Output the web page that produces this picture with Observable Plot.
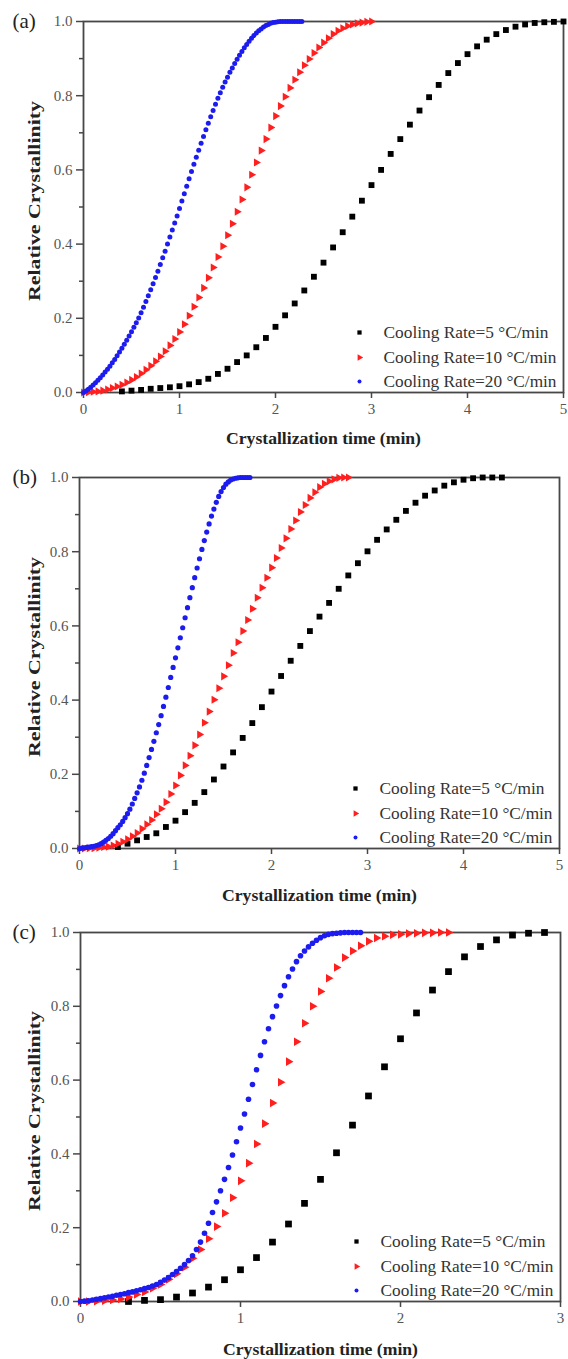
<!DOCTYPE html>
<html><head><meta charset="utf-8">
<script src="https://cdn.jsdelivr.net/npm/d3@7"></script>
<script src="https://cdn.jsdelivr.net/npm/@observablehq/plot@0.6"></script>
<style>
html,body{margin:0;padding:0;background:#fff;}
#chart{width:568px;}
#chart svg{display:block;}
#chart svg, #chart svg text{font-family:"Liberation Serif","Times New Roman",serif !important;}
</style></head><body><div id="chart"></div>
<script>
// ---------- labels & ticks ----------
const panelLabels = ["(a)", "(b)", "(c)"];
const legendLabels = ["Cooling Rate=5 °C/min", "Cooling Rate=10 °C/min", "Cooling Rate=20 °C/min"];
const xTitle = "Crystallization time (min)";
const yTitle = "Relative Crystallinity";
const xTicksAB = [0, 1, 2, 3, 4, 5];
const xTicksC = [0, 1, 2, 3];
const yTicks = [0, 0.2, 0.4, 0.6, 0.8, 1.0];
const yMinorTicks = [0.1, 0.3, 0.5, 0.7, 0.9];

// ---------- panel (a) ----------
const a_time5 = [0.4,0.5,0.6,0.7,0.8,0.9,1.0,1.1,1.2,1.3,1.4,1.5,1.6,1.7,1.8,1.9,2.0,2.1,2.2,2.3,2.4,2.5,2.6,2.7,2.8,2.9,3.0,3.1,3.2,3.3,3.4,3.5,3.6,3.7,3.8,3.9,4.0,4.1,4.2,4.3,4.4,4.5,4.6,4.7,4.8,4.9,5.0];
const a_cryst5 = [0.003,0.005,0.007,0.010,0.012,0.014,0.017,0.022,0.028,0.037,0.050,0.064,0.082,0.100,0.122,0.147,0.177,0.208,0.240,0.275,0.312,0.350,0.391,0.432,0.474,0.517,0.559,0.600,0.643,0.683,0.722,0.760,0.796,0.829,0.861,0.888,0.912,0.933,0.951,0.966,0.977,0.986,0.992,0.996,0.998,0.999,1.000];
const a_time10 = [0,0.05,0.1,0.15,0.2,0.25,0.3,0.35,0.4,0.45,0.5,0.55,0.6,0.65,0.7,0.75,0.8,0.85,0.9,0.95,1.0,1.05,1.1,1.15,1.2,1.25,1.3,1.35,1.4,1.45,1.5,1.55,1.6,1.65,1.7,1.75,1.8,1.85,1.9,1.95,2.0,2.05,2.1,2.15,2.2,2.25,2.3,2.35,2.4,2.45,2.5,2.55,2.6,2.65,2.7,2.75,2.8,2.85,2.9,2.95,3.0];
const a_cryst10 = [0.000,0.001,0.002,0.003,0.005,0.008,0.012,0.016,0.021,0.027,0.034,0.042,0.051,0.061,0.072,0.084,0.097,0.111,0.127,0.144,0.163,0.184,0.207,0.231,0.256,0.282,0.309,0.337,0.365,0.394,0.424,0.455,0.487,0.520,0.553,0.587,0.620,0.652,0.683,0.714,0.745,0.772,0.797,0.821,0.843,0.863,0.882,0.899,0.915,0.930,0.943,0.955,0.966,0.975,0.982,0.988,0.992,0.995,0.997,0.999,1.000];
const a_time20 = [0,0.025,0.05,0.075,0.1,0.125,0.15,0.175,0.2,0.225,0.25,0.275,0.3,0.325,0.35,0.375,0.4,0.425,0.45,0.475,0.5,0.525,0.55,0.575,0.6,0.625,0.65,0.675,0.7,0.725,0.75,0.775,0.8,0.825,0.85,0.875,0.9,0.925,0.95,0.975,1.0,1.025,1.05,1.075,1.1,1.125,1.15,1.175,1.2,1.225,1.25,1.275,1.3,1.325,1.35,1.375,1.4,1.425,1.45,1.475,1.5,1.525,1.55,1.575,1.6,1.625,1.65,1.675,1.7,1.725,1.75,1.775,1.8,1.825,1.85,1.875,1.9,1.925,1.95,1.975,2.0,2.025,2.05,2.075,2.1,2.125,2.15,2.175,2.2,2.225,2.25,2.275];
const a_cryst20 = [0.000,0.004,0.009,0.014,0.020,0.026,0.033,0.040,0.047,0.055,0.063,0.071,0.080,0.089,0.099,0.109,0.119,0.130,0.141,0.152,0.164,0.176,0.188,0.201,0.215,0.230,0.245,0.261,0.277,0.293,0.310,0.327,0.345,0.363,0.381,0.400,0.419,0.438,0.457,0.476,0.496,0.516,0.536,0.556,0.576,0.596,0.615,0.634,0.653,0.672,0.690,0.708,0.726,0.743,0.760,0.777,0.793,0.808,0.823,0.837,0.850,0.863,0.875,0.887,0.898,0.909,0.919,0.929,0.938,0.947,0.955,0.962,0.969,0.975,0.980,0.985,0.989,0.992,0.995,0.997,0.998,0.999,1.000,1.000,1.000,1.000,1.000,1.000,1.000,1.000,1.000,1.000];

// ---------- panel (b) ----------
const b_time5 = [0.4,0.5,0.6,0.7,0.8,0.9,1.0,1.1,1.2,1.3,1.4,1.5,1.6,1.7,1.8,1.9,2.0,2.1,2.2,2.3,2.4,2.5,2.6,2.7,2.8,2.9,3.0,3.1,3.2,3.3,3.4,3.5,3.6,3.7,3.8,3.9,4.0,4.1,4.2,4.3,4.4];
const b_cryst5 = [0.004,0.013,0.022,0.031,0.041,0.058,0.075,0.098,0.123,0.152,0.186,0.221,0.259,0.298,0.338,0.381,0.423,0.465,0.506,0.546,0.586,0.625,0.662,0.700,0.736,0.769,0.801,0.832,0.860,0.886,0.910,0.932,0.951,0.965,0.978,0.987,0.994,0.998,1.000,1.000,1.000];
const b_time10 = [0,0.05,0.1,0.15,0.2,0.25,0.3,0.35,0.4,0.45,0.5,0.55,0.6,0.65,0.7,0.75,0.8,0.85,0.9,0.95,1.0,1.05,1.1,1.15,1.2,1.25,1.3,1.35,1.4,1.45,1.5,1.55,1.6,1.65,1.7,1.75,1.8,1.85,1.9,1.95,2.0,2.05,2.1,2.15,2.2,2.25,2.3,2.35,2.4,2.45,2.5,2.55,2.6,2.65,2.7,2.75,2.8];
const b_cryst10 = [0.000,0.000,0.001,0.001,0.002,0.004,0.005,0.008,0.013,0.018,0.025,0.033,0.042,0.053,0.065,0.077,0.092,0.107,0.125,0.147,0.170,0.197,0.224,0.250,0.278,0.307,0.339,0.369,0.401,0.432,0.464,0.494,0.527,0.556,0.586,0.616,0.646,0.676,0.703,0.730,0.757,0.783,0.810,0.836,0.861,0.884,0.907,0.926,0.945,0.960,0.974,0.983,0.990,0.995,0.999,1.000,1.000];
const b_time20 = [0,0.025,0.05,0.075,0.1,0.125,0.15,0.175,0.2,0.225,0.25,0.275,0.3,0.325,0.35,0.375,0.4,0.425,0.45,0.475,0.5,0.525,0.55,0.575,0.6,0.625,0.65,0.675,0.7,0.725,0.75,0.775,0.8,0.825,0.85,0.875,0.9,0.925,0.95,0.975,1.0,1.025,1.05,1.075,1.1,1.125,1.15,1.175,1.2,1.225,1.25,1.275,1.3,1.325,1.35,1.375,1.4,1.425,1.45,1.475,1.5,1.525,1.55,1.575,1.6,1.625,1.65,1.675,1.7,1.725,1.75,1.775];
const b_cryst20 = [0.000,0.001,0.002,0.003,0.004,0.005,0.006,0.008,0.010,0.013,0.017,0.022,0.027,0.033,0.040,0.048,0.056,0.064,0.073,0.083,0.094,0.106,0.120,0.135,0.150,0.166,0.184,0.203,0.224,0.245,0.267,0.289,0.312,0.334,0.358,0.383,0.408,0.434,0.461,0.488,0.514,0.541,0.568,0.595,0.622,0.649,0.676,0.703,0.730,0.756,0.781,0.806,0.830,0.853,0.875,0.896,0.915,0.933,0.949,0.962,0.973,0.982,0.988,0.993,0.996,0.998,0.999,1.000,1.000,1.000,1.000,1.000];

// ---------- panel (c) ----------
const c_time5 = [0.3,0.4,0.5,0.6,0.7,0.8,0.9,1.0,1.1,1.2,1.3,1.4,1.5,1.6,1.7,1.8,1.9,2.0,2.1,2.2,2.3,2.4,2.5,2.6,2.7,2.8,2.9];
const c_cryst5 = [0.000,0.003,0.005,0.012,0.023,0.039,0.059,0.086,0.119,0.161,0.210,0.266,0.331,0.403,0.478,0.557,0.636,0.712,0.782,0.844,0.894,0.934,0.962,0.980,0.993,0.998,1.000];
const c_time10 = [0,0.05,0.1,0.15,0.2,0.25,0.3,0.35,0.4,0.45,0.5,0.55,0.6,0.65,0.7,0.75,0.8,0.85,0.9,0.95,1.0,1.05,1.1,1.15,1.2,1.25,1.3,1.35,1.4,1.45,1.5,1.55,1.6,1.65,1.7,1.75,1.8,1.85,1.9,1.95,2.0,2.05,2.1,2.15,2.2,2.25,2.3];
const c_cryst10 = [0.000,0.000,0.001,0.002,0.004,0.007,0.012,0.019,0.026,0.036,0.046,0.060,0.075,0.093,0.117,0.141,0.170,0.203,0.239,0.281,0.327,0.375,0.427,0.482,0.538,0.594,0.650,0.704,0.754,0.800,0.840,0.876,0.905,0.932,0.950,0.964,0.976,0.985,0.990,0.994,0.995,0.997,0.998,0.999,0.999,1.000,1.000];
const c_time20 = [0,0.025,0.05,0.075,0.1,0.125,0.15,0.175,0.2,0.225,0.25,0.275,0.3,0.325,0.35,0.375,0.4,0.425,0.45,0.475,0.5,0.525,0.55,0.575,0.6,0.625,0.65,0.675,0.7,0.725,0.75,0.775,0.8,0.825,0.85,0.875,0.9,0.925,0.95,0.975,1.0,1.025,1.05,1.075,1.1,1.125,1.15,1.175,1.2,1.225,1.25,1.275,1.3,1.325,1.35,1.375,1.4,1.425,1.45,1.475,1.5,1.525,1.55,1.575,1.6,1.625,1.65,1.675,1.7,1.725,1.75];
const c_cryst20 = [0.000,0.001,0.002,0.004,0.006,0.008,0.010,0.012,0.014,0.017,0.019,0.021,0.024,0.026,0.029,0.032,0.035,0.038,0.042,0.046,0.052,0.058,0.065,0.073,0.081,0.090,0.100,0.111,0.124,0.141,0.161,0.185,0.212,0.241,0.270,0.300,0.331,0.363,0.397,0.433,0.470,0.508,0.548,0.588,0.628,0.667,0.704,0.739,0.772,0.801,0.829,0.856,0.880,0.901,0.921,0.937,0.950,0.961,0.971,0.979,0.986,0.991,0.995,0.997,0.998,0.999,1.000,1.000,1.000,1.000,1.000];

// ---------- styling ----------
const FONT = "Liberation Serif";
const BLACK = "#000000", RED = "#ff1f1f", BLUE = "#1c1cf0";
const AXIS = "#474747";
const legendLengths = [165, 173, 173];

function rows(t, v) { return t.map((d, i) => ({t: d, v: v[i]})).filter(d => d.v != null); }

function panel(cfg) {
  const s5 = rows(cfg.t5, cfg.v5), s10 = rows(cfg.t10, cfg.v10), s20 = rows(cfg.t20, cfg.v20);
  const legendDy = [-60, -35, -11];
  const legendMarks = [];
  const symStyle = [
    {symbol: "square", fill: BLACK, r: 2.4},
    {symbol: "triangle", fill: RED, r: 2.4, rotate: 90},
    {symbol: "circle", fill: BLUE, r: 2.0}
  ];
  legendLabels.forEach((lab, i) => {
    legendMarks.push(Plot.dot([lab], {frameAnchor: "bottom-right", dx: -204, dy: legendDy[i], ...symStyle[i]}));
    legendMarks.push(Plot.text([lab], {text: d => d, frameAnchor: "bottom-right", dx: -180, dy: legendDy[i], textAnchor: "start", lineAnchor: "middle", fontSize: 16, fontFamily: FONT, fill: "#333"}));
  });
  const svg = Plot.plot({
    width: 568, height: cfg.height,
    marginTop: cfg.mt, marginBottom: cfg.mb, marginLeft: cfg.ml, marginRight: cfg.mr,
    style: {fontFamily: FONT, fontSize: "15px", color: "#555", background: "#fff", overflow: "visible"},
    x: {domain: [0, cfg.xmax], label: null},
    y: {domain: [0, 1], label: null},
    marks: [
      Plot.frame({stroke: AXIS, strokeWidth: 1.8}),
      Plot.axisY(yTicks, {tickSize: 7, tickPadding: 4, tickFormat: d3.format(".1f"), stroke: AXIS, strokeWidth: 1.5, fontFamily: FONT, fontSize: 15, label: null}),
      Plot.axisY(yMinorTicks, {tickSize: 4, text: null, stroke: AXIS, strokeWidth: 1.5, label: null}),
      Plot.axisX(cfg.xticks, {tickSize: 6, tickPadding: 5, tickFormat: d => String(d), stroke: AXIS, strokeWidth: 1.5, fontFamily: FONT, fontSize: 15, label: null}),
      Plot.dot(s5, {x: "t", y: "v", symbol: "square", fill: BLACK, r: cfg.rs}),
      Plot.dot(s10, {x: "t", y: "v", symbol: "triangle", rotate: 90, fill: RED, r: cfg.rt}),
      Plot.dot(s20, {x: "t", y: "v", symbol: "circle", fill: BLUE, r: cfg.rc}),
      ...legendMarks,
      Plot.text([cfg.label], {text: d => d, frameAnchor: "top-left", dx: -(cfg.ml - 12), dy: 0, textAnchor: "start", lineAnchor: "middle", fontSize: 21, fontFamily: FONT, fill: "#222"}),
      Plot.text([yTitle], {text: d => d, frameAnchor: "left", dx: -(cfg.ml - 34), dy: -6, rotate: -90, textAnchor: "middle", lineAnchor: "middle", fontWeight: "bold", fontSize: 17, fontFamily: FONT, fill: "#222"}),
      Plot.text([xTitle], {text: d => d, frameAnchor: "bottom", dy: cfg.xtdy, textAnchor: "middle", lineAnchor: "middle", fontWeight: "bold", fontSize: 17, fontFamily: FONT, fill: "#222"})
    ]
  });
  // stretch texts to the widths seen in the reference
  svg.querySelectorAll("text").forEach(t => {
    const s = t.textContent;
    if (s === yTitle) { t.setAttribute("textLength", 200); t.setAttribute("lengthAdjust", "spacingAndGlyphs"); }
    else if (s === xTitle) { t.setAttribute("textLength", 195); t.setAttribute("lengthAdjust", "spacingAndGlyphs"); }
    else {
      const k = legendLabels.indexOf(s);
      if (k >= 0) { t.setAttribute("textLength", legendLengths[k]); t.setAttribute("lengthAdjust", "spacingAndGlyphs"); }
    }
  });
  return svg;
}

const chart = document.getElementById("chart");
chart.append(panel({label: panelLabels[0], height: 455, mt: 21, mb: 63, ml: 83, mr: 5, xmax: 5, xticks: xTicksAB,
  t5: a_time5, v5: a_cryst5, t10: a_time10, v10: a_cryst10, t20: a_time20, v20: a_cryst20, rs: 3.3, rt: 3.0, rc: 2.5, xtdy: 46}));
chart.append(panel({label: panelLabels[1], height: 455, mt: 22, mb: 62, ml: 79, mr: 9, xmax: 5, xticks: xTicksAB,
  t5: b_time5, v5: b_cryst5, t10: b_time10, v10: b_cryst10, t20: b_time20, v20: b_cryst20, rs: 3.3, rt: 3.0, rc: 2.6, xtdy: 47}));
chart.append(panel({label: panelLabels[2], height: 449, mt: 22, mb: 58, ml: 80, mr: 8, xmax: 3, xticks: xTicksC,
  t5: c_time5, v5: c_cryst5, t10: c_time10, v10: c_cryst10, t20: c_time20, v20: c_cryst20, rs: 3.8, rt: 3.2, rc: 2.8, xtdy: 48}));
</script></body></html>
